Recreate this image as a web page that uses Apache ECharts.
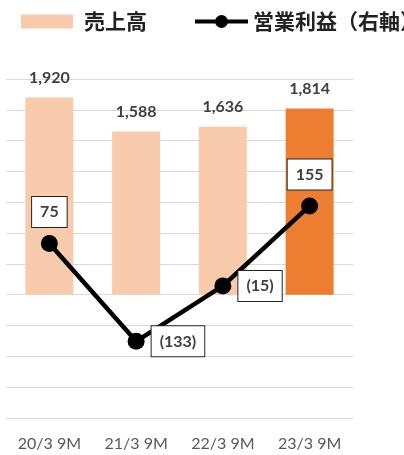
<!DOCTYPE html>
<html>
<head>
<meta charset="utf-8">
<script src="https://cdn.jsdelivr.net/npm/echarts@6/dist/echarts.min.js"></script>
<style>
  html, body { margin: 0; padding: 0; background: #fff; }
  #chart { width: 404px; height: 455px; }
</style>
</head>
<body>
<div id="chart"></div>
<script>
// Nine-month results: net sales (bars, left axis) and operating income (line, right axis)
const categories = ['20/3 9M', '21/3 9M', '22/3 9M', '23/3 9M'];
const salesValues = [1920, 1588, 1636, 1814];
const incomeValues = [75, -133, -15, 155];
const salesName = '売上高';
const incomeName = '営業利益（右軸）';

const NUM_FONT = 'Lato, "Open Sans", sans-serif';
const JP_FONT = '"Noto Sans CJK JP", sans-serif';

const fmtSales = v => v.toLocaleString('en-US');
const fmtIncome = v => (v < 0 ? '(' + Math.abs(v) + ')' : String(v));

const chart = echarts.init(document.getElementById('chart'), null, { renderer: 'canvas' });

const barData = salesValues.map((v, i) => (
  i === salesValues.length - 1 ? { value: v, itemStyle: { color: '#ED7D31' } } : v
));

const lineData = incomeValues.map(v => ({
  value: v,
  label: v < 0 ? { position: 'right', distance: 7 } : { position: 'top', distance: 8 }
}));

chart.setOption({
  animation: false,
  backgroundColor: '#fff',
  legend: [
    {
      left: 16, top: 6,
      itemWidth: 52, itemHeight: 14,
      selectedMode: false,
      data: [{ name: salesName, icon: 'rect' }],
      textStyle: { fontFamily: JP_FONT, fontSize: 21, fontWeight: 'bold', color: '#222', padding: [0, 0, 0, 6] }
    },
    {
      left: 190, top: 6,
      width: 400,
      itemWidth: 53, itemHeight: 13,
      selectedMode: false,
      data: [{
        name: incomeName,
        icon: 'path://M0,4.5L53,4.5L53,8.5L0,8.5Z M20,6.5A6.5,6.5 0 1,1 33,6.5A6.5,6.5 0 1,1 20,6.5Z'
      }],
      textStyle: { fontFamily: JP_FONT, fontSize: 21, fontWeight: 'bold', color: '#222' }
    }
  ],
  grid: { left: 6, right: 51, top: 79, bottom: 37, containLabel: false },
  xAxis: {
    type: 'category',
    data: categories,
    axisLine: { show: false, onZero: false },
    axisTick: { show: false },
    axisLabel: { fontFamily: NUM_FONT, fontSize: 16, color: '#595959', margin: 18 }
  },
  yAxis: [
    {
      type: 'value', min: -1200, max: 2100, interval: 300,
      axisLabel: { show: false },
      axisLine: { show: false },
      axisTick: { show: false },
      splitLine: { lineStyle: { color: '#d9d9d9', width: 1 } }
    },
    {
      type: 'value', min: -296, max: 425,
      axisLabel: { show: false },
      axisLine: { show: false },
      axisTick: { show: false },
      splitLine: { show: false }
    }
  ],
  series: [
    {
      name: salesName,
      type: 'bar',
      data: barData,
      barWidth: 48,
      itemStyle: { color: '#F8CBAD' },
      label: {
        show: true, position: 'top', distance: 12,
        formatter: p => fmtSales(p.value),
        fontFamily: NUM_FONT, fontSize: 16, fontWeight: 'bold', color: '#404040'
      },
      z: 2
    },
    {
      name: incomeName,
      type: 'line',
      yAxisIndex: 1,
      data: lineData,
      symbol: 'circle',
      symbolSize: 17,
      itemStyle: { color: '#000' },
      lineStyle: { color: '#000', width: 4.5 },
      label: {
        show: true,
        formatter: p => fmtIncome(p.value),
        fontFamily: NUM_FONT, fontSize: 16, fontWeight: 'bold', color: '#404040',
        lineHeight: 16,
        backgroundColor: '#fff',
        borderColor: '#262626', borderWidth: 1,
        padding: [7, 8, 7, 8]
      },
      z: 5
    }
  ]
});
</script>
</body>
</html>
